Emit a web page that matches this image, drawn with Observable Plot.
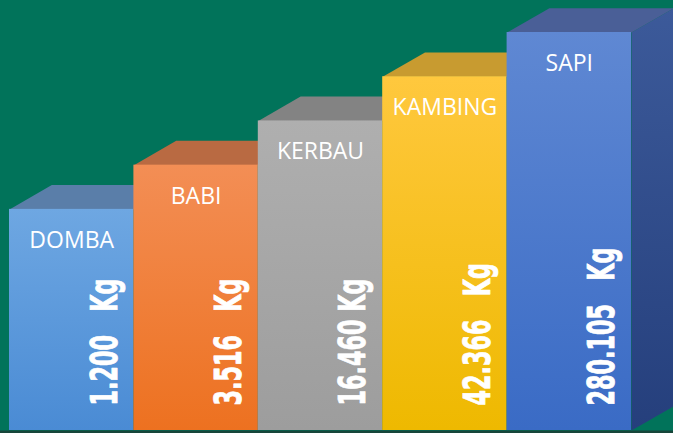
<!DOCTYPE html>
<html><head><meta charset="utf-8">
<script src="https://cdn.jsdelivr.net/npm/d3@7"></script>
<script src="https://cdn.jsdelivr.net/npm/@observablehq/plot@0.6"></script>
<style>
html,body{margin:0;padding:0;background:#01735a;overflow:hidden;}
</style></head><body><div id="chart"></div>
<script>
// ---- data ----
const categories = ["DOMBA", "BABI", "KERBAU", "KAMBING", "SAPI"];
const values = [1200, 3516, 16460, 42366, 280105];          // kg
const valueLabels = ["1.200\u00a0\u00a0\u00a0Kg", "3.516\u00a0\u00a0\u00a0Kg", "16.460\u00a0Kg", "42.366\u00a0\u00a0\u00a0Kg", "280.105\u00a0\u00a0\u00a0Kg"];
const levels = [5, 6, 7, 8, 9];                               // staircase step (visual rank)

// ---- styles ----
const frontTop    = ["#6ea7e2", "#f38e55", "#afafaf", "#ffc83e", "#5f88d3"];
const frontBottom = ["#4a8bd4", "#ed7120", "#9d9d9d", "#eeb900", "#3a6bc5"];
const topFace     = ["#5a7ea9", "#b96a42", "#838383", "#c89b30", "#4a5f97"];
const sideTop = "#3c5a9a", sideBottom = "#253f7c";
const DX = 0.34, DY = 0.55; // 3D depth in data units

const rows = categories.map((name, i) => ({name, i, value: values[i], label: valueLabels[i], level: levels[i]}));

const defs = () => {
  const d = d3.create("svg:defs");
  rows.forEach(r => {
    const g = d.append("linearGradient").attr("id", "front" + r.i).attr("x1", 0).attr("y1", 0).attr("x2", 0).attr("y2", 1);
    g.append("stop").attr("offset", "0%").attr("stop-color", frontTop[r.i]);
    g.append("stop").attr("offset", "100%").attr("stop-color", frontBottom[r.i]);
  });
  const s = d.append("linearGradient").attr("id", "side").attr("x1", 0).attr("y1", 0).attr("x2", 0).attr("y2", 1);
  s.append("stop").attr("offset", "0%").attr("stop-color", sideTop);
  s.append("stop").attr("offset", "100%").attr("stop-color", sideBottom);
  return d.node();
};

const sidePoly = r => [
  {x: r.i + 1, y: r.level}, {x: r.i + 1 + DX, y: r.level + DY},
  {x: r.i + 1 + DX, y: DY}, {x: r.i + 1, y: 0}
];
const topPoly = r => [
  {x: r.i, y: r.level}, {x: r.i + DX, y: r.level + DY},
  {x: r.i + 1 + DX, y: r.level + DY}, {x: r.i + 1, y: r.level}
];

const plot = Plot.plot({
  width: 673, height: 433,
  margin: 0,
  x: {domain: [0, 5], range: [9, 631], axis: null},
  y: {domain: [0, 9], range: [430, 32], axis: null},
  style: {background: "#01735a", overflow: "visible"},
  marks: [
    defs,
    Plot.ruleY([0], {stroke: "#17463a", strokeWidth: 3, dy: 1.5}),
    ...rows.map(r => Plot.line(sidePoly(r), {x: "x", y: "y", fill: "url(#side)", stroke: "none"})),
    ...rows.map(r => Plot.line(topPoly(r), {x: "x", y: "y", fill: topFace[r.i], stroke: "none"})),
    ...rows.map(r => Plot.rectY([r], {x1: "i", x2: d => d.i + 1, y1: 0, y2: "level", fill: `url(#front${r.i})`, insetLeft: 0, insetRight: 0})),
    Plot.text(rows, {x: d => d.i + 0.5, y: "level", text: "name", dy: 31, lineAnchor: "middle",
      fill: "white", fontSize: 23, fontFamily: "Open Sans", fontWeight: 400}),
    Plot.text(rows, {x: d => d.i + 0.5, y: 0, text: "label", rotate: -90, textAnchor: "start", lineAnchor: "middle",
      dx: 33, dy: -25, fill: "white", stroke: "white", strokeWidth: 0.8, fontSize: 37, fontWeight: 700,
      fontFamily: "'Liberation Sans Narrow','DejaVu Sans Condensed','DejaVu Sans',sans-serif"})
  ]
});
document.getElementById("chart").appendChild(plot);

// condense the rotated value labels horizontally (text direction)
const rotTexts = d3.select(plot).selectAll("text").filter(function() {
  return (this.getAttribute("transform") || "").includes("rotate(-90)");
});
rotTexts.attr("font-stretch", "condensed");
const first = rotTexts.node();
if (first) {
  const tmp = d3.select(first.parentNode).append("text").attr("font-stretch", "condensed").text("0000000000");
  const w = tmp.node().getComputedTextLength() / 10;
  tmp.remove();
  const s = w > 0 ? 15.5 / w : 0.7;
  rotTexts.attr("transform", function() { return this.getAttribute("transform") + ` scale(${s},1)`; });
}
</script>
</body></html>
